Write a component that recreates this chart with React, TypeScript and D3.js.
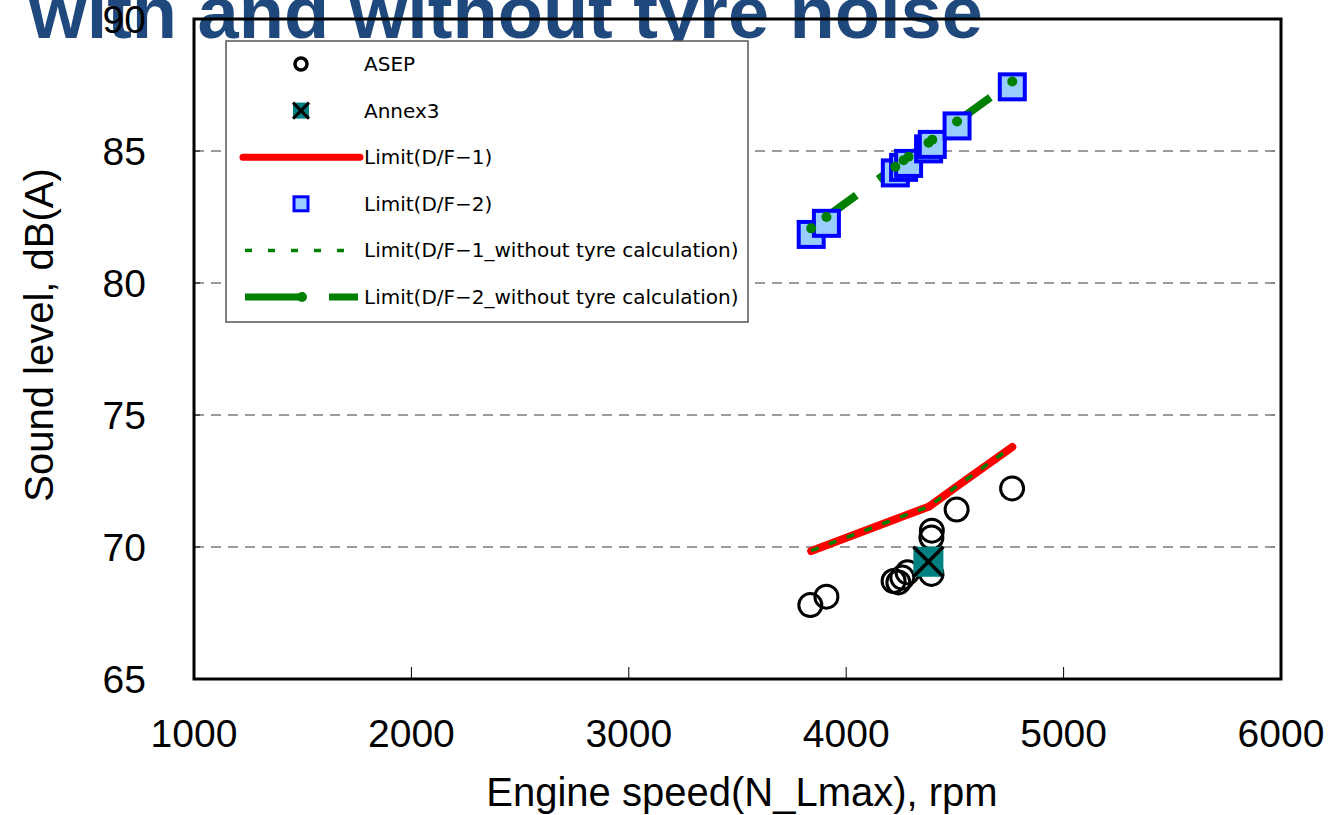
import React from "react";
import * as d3 from "d3";

// Engine speed of each test condition (rpm) used by the limit curves
const limitRpm = [3839, 3909, 4226, 4264, 4287, 4379, 4396, 4510, 4764];
// Limit values, dB(A)
const limitDF1 = [69.85, 70.07, 71.05, 71.17, 71.24, 71.52, 71.62, 72.3, 73.79];
const limitDF2 = [81.84, 82.26, 84.17, 84.38, 84.53, 85.08, 85.25, 85.95, 87.43];
const limitDF1NoTyre = [69.86, 70.08, 71.06, 71.18, 71.25, 71.53, 71.63, 72.31, 73.8];
const limitDF2NoTyre = [82.07, 82.5, 84.4, 84.65, 84.78, 85.31, 85.43, 86.12, 87.63];

// ASEP measurements
const asepRpm = [3835, 3909, 4218, 4240, 4258, 4282, 4392, 4392, 4394, 4508, 4763];
const asepDb = [67.8, 68.12, 68.71, 68.66, 68.84, 69.04, 68.98, 70.36, 70.62, 71.42, 72.22];

// Annex 3 measurement
const annexRpm = [4378];
const annexDb = [69.44];

const xTicks = [1000, 2000, 3000, 4000, 5000, 6000];
const yTicks = [65, 70, 75, 80, 85, 90];
const gridValues = [70, 75, 80, 85];

const legendLabels = [
  "ASEP",
  "Annex3",
  "Limit(D/F\u22121)",
  "Limit(D/F\u22122)",
  "Limit(D/F\u22121_without tyre calculation)",
  "Limit(D/F\u22122_without tyre calculation)",
];

const W = 1342;
const H = 815;
const left = 194;
const right = 1281;
const top = 19;
const bottom = 679;

const axisFont = "'Liberation Sans', Arial, sans-serif";
const legendFont = "'DejaVu Sans', sans-serif";

export default function App() {
  const x = d3.scaleLinear().domain([1000, 6000]).range([left, right]);
  const y = d3.scaleLinear().domain([65, 90]).range([bottom, top]);

  const line = d3
    .line<[number, number]>()
    .x((d) => x(d[0]))
    .y((d) => y(d[1]));

  const pts = (vals: number[]) => limitRpm.map((r, i) => [r, vals[i]] as [number, number]);

  const sq = 25;
  const ax = 30;

  const legX = 226;
  const legY = 41;
  const legW = 522;
  const legH = 281;
  const rowY = (i: number) => 64 + i * 46.6;
  const symX = 301;
  const textX = 364;

  return (
    <svg
      width={W}
      height={H}
      style={{ position: "absolute", left: 0, top: 0, background: "#fff" }}
    >
      {/* slide title, partly running off the top */}
      <text
        x={506}
        y={38}
        textAnchor="middle"
        fontFamily="'Liberation Sans', Arial, sans-serif"
        fontWeight="bold"
        fontSize={74}
        fill="#1F497D"
      >
        with and without tyre noise
      </text>

      {/* horizontal grid */}
      {gridValues.map((v) => (
        <line
          key={v}
          x1={left}
          x2={right}
          y1={y(v)}
          y2={y(v)}
          stroke="#3a3a3a"
          strokeWidth={1.2}
          strokeDasharray="10,7"
        />
      ))}

      {/* inside ticks */}
      {xTicks.slice(1, -1).map((t) => (
        <line key={t} x1={x(t)} x2={x(t)} y1={bottom} y2={bottom - 12} stroke="#000" strokeWidth={1} />
      ))}
      {yTicks.slice(1, -1).map((t) => (
        <line key={t} x1={left} x2={left + 6} y1={y(t)} y2={y(t)} stroke="#000" strokeWidth={1} />
      ))}

      {/* limit curves */}
      <path d={line(pts(limitDF1))!} fill="none" stroke="#FF0000" strokeWidth={8} strokeLinecap="round" strokeLinejoin="round" />
      <path d={line(pts(limitDF1NoTyre))!} fill="none" stroke="#008000" strokeWidth={3.5} strokeDasharray="8,11" />
      <path d={line(pts(limitDF2NoTyre))!} fill="none" stroke="#008000" strokeWidth={8} strokeDasharray="56,27" />

      {/* ASEP markers */}
      {asepRpm.map((r, i) => (
        <circle key={i} cx={x(r)} cy={y(asepDb[i])} r={11.5} fill="none" stroke="#000" strokeWidth={3} />
      ))}

      {/* Annex3 markers */}
      {annexRpm.map((r, i) => {
        const cx = x(r);
        const cy = y(annexDb[i]);
        const h = ax / 2;
        return (
          <g key={i}>
            <rect x={cx - h} y={cy - h} width={ax} height={ax} fill="#008080" />
            <path d={`M${cx - h},${cy - h}L${cx + h},${cy + h}M${cx + h},${cy - h}L${cx - h},${cy + h}`} stroke="#000" strokeWidth={3.5} />
          </g>
        );
      })}

      {/* Limit(D/F-2) markers */}
      {limitRpm.map((r, i) => (
        <rect
          key={i}
          x={x(r) - sq / 2}
          y={y(limitDF2[i]) - sq / 2}
          width={sq}
          height={sq}
          fill="#99CCFF"
          stroke="#0000FF"
          strokeWidth={4}
        />
      ))}

      {/* Limit(D/F-2_without tyre) markers */}
      {limitRpm.map((r, i) => (
        <circle key={i} cx={x(r)} cy={y(limitDF2NoTyre[i])} r={5} fill="#008000" />
      ))}

      {/* plot frame */}
      <rect x={left} y={top} width={right - left} height={bottom - top} fill="none" stroke="#000" strokeWidth={3} />

      {/* axis labels */}
      {xTicks.map((t) => (
        <text key={t} x={x(t)} y={747} textAnchor="middle" fontFamily={axisFont} fontSize={39} fill="#000">
          {t}
        </text>
      ))}
      {yTicks.map((t) => (
        <text key={t} x={146} y={y(t) + 14} textAnchor="end" fontFamily={axisFont} fontSize={39} fill="#000">
          {t}
        </text>
      ))}
      <text x={742} y={806} textAnchor="middle" fontFamily={axisFont} fontSize={40} fill="#000">
        Engine speed(N_Lmax), rpm
      </text>
      <text
        transform={`translate(53,335) rotate(-90)`}
        textAnchor="middle"
        fontFamily={axisFont}
        fontSize={40}
        fill="#000"
      >
        Sound level, dB(A)
      </text>

      {/* legend */}
      <g>
        <rect x={legX} y={legY} width={legW} height={legH} fill="#fff" stroke="#555" strokeWidth={1.5} />
        {/* ASEP */}
        <circle cx={symX} cy={rowY(0)} r={6} fill="none" stroke="#000" strokeWidth={3.5} />
        {/* Annex3 */}
        <rect x={symX - 8} y={rowY(1) - 8} width={16} height={16} fill="#008080" />
        <path
          d={`M${symX - 8},${rowY(1) - 8}L${symX + 8},${rowY(1) + 8}M${symX + 8},${rowY(1) - 8}L${symX - 8},${rowY(1) + 8}`}
          stroke="#000"
          strokeWidth={3}
        />
        {/* Limit(D/F-1) */}
        <line x1={243} x2={360} y1={rowY(2)} y2={rowY(2)} stroke="#FF0000" strokeWidth={7} strokeLinecap="round" />
        {/* Limit(D/F-2) */}
        <rect x={symX - 7} y={rowY(3) - 7} width={14} height={14} fill="#99CCFF" stroke="#0000FF" strokeWidth={3} />
        {/* Limit(D/F-1_without tyre) */}
        <line x1={245} x2={360} y1={rowY(4)} y2={rowY(4)} stroke="#008000" strokeWidth={3.5} strokeDasharray="7,16" />
        {/* Limit(D/F-2_without tyre) */}
        <line x1={245} x2={358} y1={rowY(5)} y2={rowY(5)} stroke="#008000" strokeWidth={7} strokeDasharray="57,27" />
        <circle cx={302} cy={rowY(5)} r={5} fill="#008000" />
        {legendLabels.map((s, i) => (
          <text key={s} x={textX} y={rowY(i) + 7} fontFamily={legendFont} fontSize={20} fill="#000">
            {s}
          </text>
        ))}
      </g>
    </svg>
  );
}
